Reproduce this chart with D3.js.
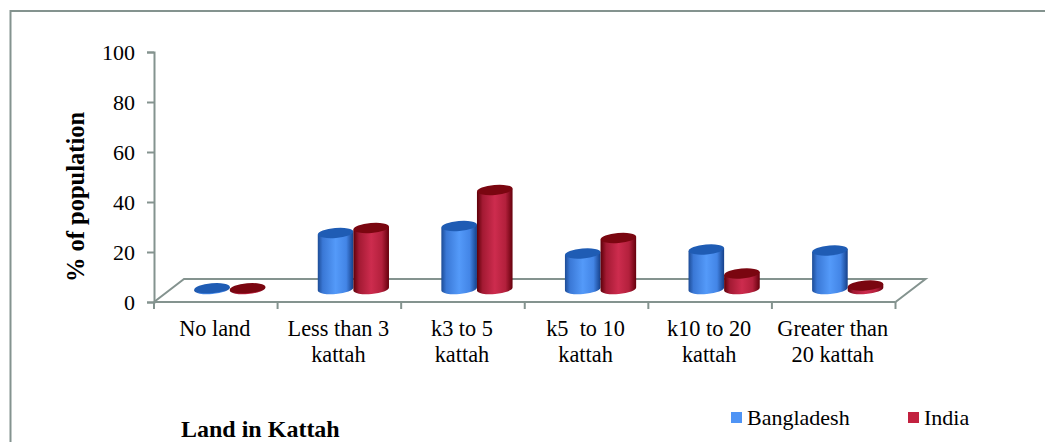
<!DOCTYPE html>
<html>
<head>
<meta charset="utf-8">
<script src="https://cdn.jsdelivr.net/npm/d3@7"></script>
<style>
  html, body { margin: 0; padding: 0; background: #fff; }
  svg { display: block; }
  text { font-family: "Liberation Serif", serif; fill: #000; }
</style>
</head>
<body>
<svg id="chart" width="1045" height="442"></svg>
<script>
const categories = ["No land", "Less than 3|kattah", "k3 to 5|kattah", "k5  to 10|kattah", "k10 to 20|kattah", "Greater than|20 kattah"];
const bangladesh = [0.3, 22.4, 25.2, 14.2, 15.8, 15.4];
const india = [0.3, 24.4, 39.6, 20.4, 6.2, 1.4];
const yTicks = [0, 20, 40, 60, 80, 100];
const seriesNames = ["Bangladesh", "India"];

const axisColor = "#84938f";
const svg = d3.select("#chart");
const defs = svg.append("defs");

const y = d3.scaleLinear().domain([0, 100]).range([302, 52]);
const x = d3.scaleBand().domain(categories).range([154, 895.5]);
const depth = { dx: 30, dy: -23 };
const barFloorY = 289;
const barShift = 14;
const rx = 17.8, ry = 5, tilt = 5;

// Outer frame: left and top edges only
svg.append("path")
  .attr("d", "M10.5,442V11H1045")
  .attr("fill", "none").attr("stroke", axisColor).attr("stroke-width", 2);

// Floor of the 3D plot area
const floorLeft = x.range()[0], floorRight = x.range()[1], floorY = y(0);
svg.append("path")
  .attr("d", `M${floorLeft},${floorY}L${floorLeft + depth.dx},${floorY + depth.dy}H${floorRight + depth.dx}L${floorRight},${floorY}`)
  .attr("fill", "none").attr("stroke", axisColor).attr("stroke-width", 2);

// Value axis
const yAxis = svg.append("g").attr("transform", `translate(${floorLeft},0)`)
  .call(d3.axisLeft(y).tickValues(yTicks).tickSize(7).tickPadding(12));
yAxis.selectAll("line,path").attr("stroke", axisColor).attr("stroke-width", 2);
yAxis.selectAll("text").attr("font-size", 22).style("font-family", '"Liberation Serif", serif');

// Category axis
const xAxis = svg.append("g").attr("transform", `translate(0,${floorY})`);
xAxis.append("line").attr("x1", floorLeft).attr("x2", floorRight)
  .attr("stroke", axisColor).attr("stroke-width", 2);
xAxis.selectAll("line.tick").data(d3.range(categories.length + 1)).join("line")
  .attr("class", "tick")
  .attr("x1", i => floorLeft + i * x.step()).attr("x2", i => floorLeft + i * x.step())
  .attr("y1", 0).attr("y2", 7)
  .attr("stroke", axisColor).attr("stroke-width", 2);

const catLabels = svg.append("g");
categories.forEach(c => {
  const t = catLabels.append("text")
    .attr("text-anchor", "middle").attr("font-size", 22.3)
    .style("white-space", "pre");
  c.split("|").forEach((line, i) => {
    t.append("tspan").attr("x", x(c) + x.bandwidth() / 2 - 1)
      .attr("y", 336 + i * 26).text(line);
  });
});

// Cylinder shading
function sideGradient(id, stops) {
  const g = defs.append("linearGradient").attr("id", id)
    .attr("x1", "0%").attr("x2", "100%").attr("y1", "0%").attr("y2", "0%");
  stops.forEach(([o, c]) => g.append("stop").attr("offset", o).attr("stop-color", c));
}
sideGradient("sideBlue", [["0%", "#1d4c96"], ["14%", "#3a78d6"], ["50%", "#549af9"], ["80%", "#4385e6"], ["100%", "#15408a"]]);
sideGradient("sideRed", [["0%", "#5e0009"], ["16%", "#a31a33"], ["50%", "#cd2c4e"], ["80%", "#b3203c"], ["100%", "#66000c"]]);

const series = [
  { values: bangladesh, side: "url(#sideBlue)", top: "#1f5cb4", offset: 0 },
  { values: india, side: "url(#sideRed)", top: "#7a0610", offset: 1 }
];
const tiltDy = rx * Math.sin(tilt * Math.PI / 180);

function barPath(cx, topY, botY) {
  return `M${cx - rx},${topY + tiltDy}` +
    `L${cx - rx},${botY + tiltDy}` +
    `A${rx},${ry} ${-tilt} 0 0 ${cx + rx},${botY - tiltDy}` +
    `L${cx + rx},${topY - tiltDy}Z`;
}

const barsLayer = svg.append("g");
categories.forEach((c, i) => {
  series.forEach(s => {
    const cx = x(c) + x.step() / 2 + barShift + (s.offset === 0 ? -rx : rx);
    const botY = barFloorY;
    const topY = botY - (y(0) - y(s.values[i]));
    const g = barsLayer.append("g");
    g.append("path").attr("d", barPath(cx, topY, botY)).attr("fill", s.side);
    g.append("ellipse").attr("cx", cx).attr("cy", topY).attr("rx", rx).attr("ry", ry)
      .attr("transform", `rotate(${-tilt},${cx},${topY})`).attr("fill", s.top);
  });
});

// Axis titles
svg.append("text").attr("transform", "translate(83.5,197) rotate(-90)")
  .attr("text-anchor", "middle").attr("font-size", 24.5).attr("font-weight", "bold")
  .text("% of population");
svg.append("text").attr("x", 181).attr("y", 437)
  .attr("font-size", 24).attr("font-weight", "bold").text("Land in Kattah");

// Legend
const legendX = [731, 908];
const legendColors = ["#4f94f5", "#c2213f"];
seriesNames.forEach((n, i) => {
  svg.append("rect").attr("x", legendX[i]).attr("y", 412).attr("width", 11).attr("height", 11)
    .attr("fill", legendColors[i]);
  svg.append("text").attr("x", legendX[i] + 16).attr("y", 425)
    .attr("font-size", 22).text(n);
});
</script>
</body>
</html>
